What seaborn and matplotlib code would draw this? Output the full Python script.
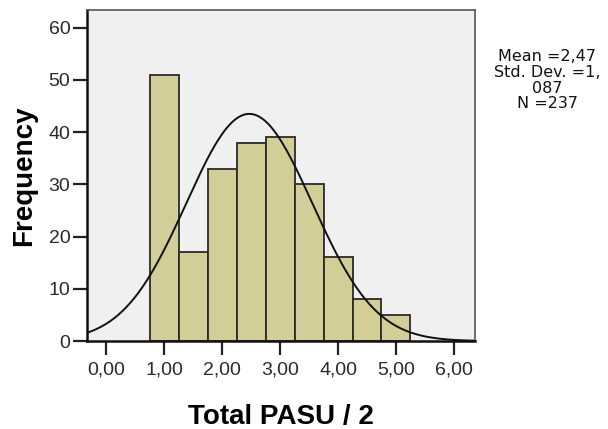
import numpy as np
import pandas as pd
import seaborn as sns
import matplotlib.pyplot as plt

# Histogram data
bin_edges = [0.75, 1.25, 1.75, 2.25, 2.75, 3.25, 3.75, 4.25, 4.75, 5.25]
bin_centers = [1.0, 1.5, 2.0, 2.5, 3.0, 3.5, 4.0, 4.5, 5.0]
counts = [51, 17, 33, 38, 39, 30, 16, 8, 5]

mean_val = 2.47
std_val = 1.087
n_val = 237

x_ticks = [0, 1, 2, 3, 4, 5, 6]
x_tick_labels = ["0,00", "1,00", "2,00", "3,00", "4,00", "5,00", "6,00"]
y_ticks = [0, 10, 20, 30, 40, 50, 60]

sns.set_theme(style="white")
plt.rcParams["font.family"] = ["Liberation Sans", "DejaVu Sans"]

fig = plt.figure(figsize=(6.08, 4.29), dpi=100)
ax = fig.add_axes([0.143, 0.205, 0.638, 0.772])
ax.set_facecolor("#f0f0f0")

df = pd.DataFrame({"x": bin_centers, "n": counts})
sns.histplot(data=df, x="x", weights="n", bins=bin_edges, ax=ax,
             color="#d3ce97", alpha=1.0, edgecolor="#2a2a2a", linewidth=1.3)

# Normal curve scaled to counts
xmin, xmax = -0.33, 6.36
xs = np.linspace(xmin, xmax, 300)
width = bin_edges[1] - bin_edges[0]
ys = n_val * width / (std_val * np.sqrt(2 * np.pi)) * np.exp(-0.5 * ((xs - mean_val) / std_val) ** 2)
sns.lineplot(x=xs, y=ys, ax=ax, color="#111111", linewidth=1.4)

ax.set_xlim(xmin, xmax)
ax.set_ylim(0, 63.4)
ax.set_xticks(x_ticks)
ax.set_xticklabels(x_tick_labels)
ax.set_yticks(y_ticks)
ax.tick_params(axis="both", direction="out", length=10, width=1.6, color="#222222",
               labelsize=14, labelcolor="#2a2a2a", left=True, bottom=True)
ax.tick_params(axis="x", pad=5)
ax.tick_params(axis="y", pad=2)

for side in ["top", "right"]:
    ax.spines[side].set_color("#555555")
    ax.spines[side].set_linewidth(1.2)
for side in ["left", "bottom"]:
    ax.spines[side].set_color("#111111")
    ax.spines[side].set_linewidth(1.8)

ax.set_xlabel("Total PASU / 2", fontsize=20, fontweight="bold", labelpad=18, color="black")
ax.set_ylabel("Frequency", fontsize=20, fontweight="bold", labelpad=8, color="black")

fig.text(0.9, 0.885, "Mean =2,47\nStd. Dev. =1,\n087\nN =237",
         ha="center", va="top", fontsize=11.5, color="#111111", linespacing=1.05,
         family="DejaVu Sans")

fig.savefig("out.png", dpi=100)
